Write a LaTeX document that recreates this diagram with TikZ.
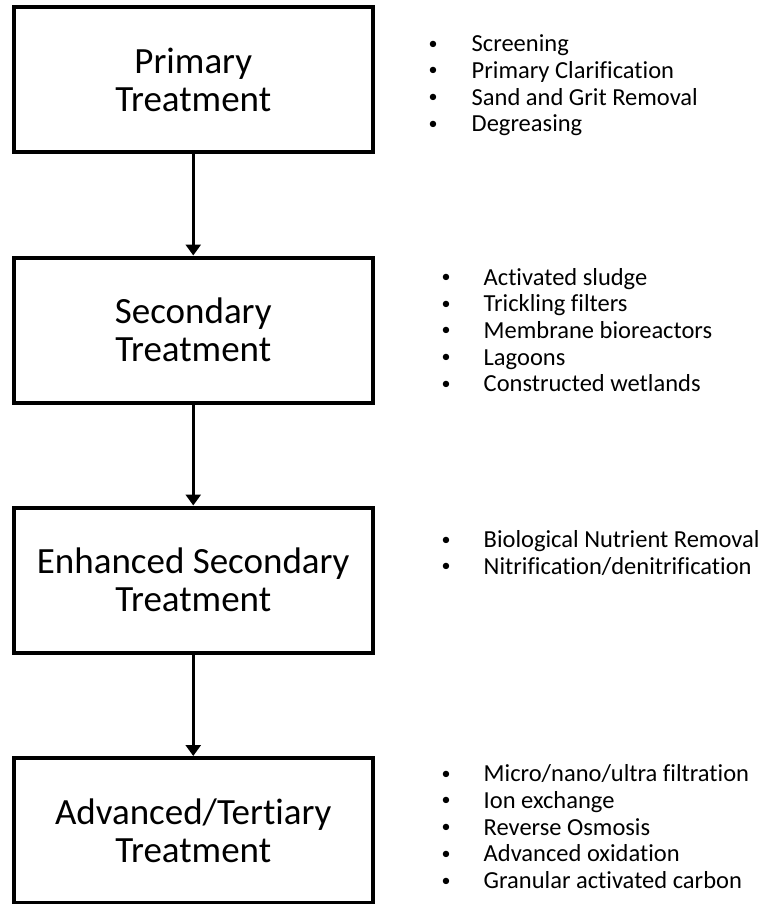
\documentclass[tikz,border=0pt]{standalone}
\usepackage{fontspec}
\setmainfont{Carlito}[Ligatures=NoCommon]
\usepackage{tikz}
\usetikzlibrary{arrows.meta}

\newcommand{\dotitem}{\raisebox{2.5pt}{\fontsize{18}{18}\selectfont\textbullet}}

\begin{document}
\begin{tikzpicture}[x=1pt,y=-1pt,
    stage/.style={draw,line width=4pt,minimum width=359.5pt,minimum height=145pt,
      align=center,inner sep=0pt,font=\fontsize{37}{38}\selectfont},
    items/.style={anchor=base west,inner sep=0pt,font=\fontsize{24.5}{26.7}\selectfont},
    flow/.style={-{Triangle[width=15pt,length=11pt]},line width=3pt}]

        \useasboundingbox (0,0) rectangle (768,904);

        \node[stage]         (prim) at (193.25, 80)       {Primary\\Treatment};
        \node[stage]         (sec)  at (193.25, 330)      {Secondary\\Treatment};
        \node[stage]         (enh)  at (193.25, 580)      {Enhanced Secondary\\Treatment};
        \node[stage]         (adv)  at (193.25, 830.5)    {Advanced/Tertiary\\Treatment};

        \draw[flow] (prim) -- (sec);
        \draw[flow] (sec)  -- (enh);
        \draw[flow] (enh)  -- (adv);

        \node[items] (primlist) at (428.5, 51.7) {\begin{tabular}[t]{@{}p{43pt}@{}l@{}}
            \dotitem & Screening\\
            \dotitem & Primary Clarification\\
            \dotitem & Sand and Grit Removal\\
            \dotitem & Degreasing
          \end{tabular}};
        \node[items] (seclist) at (441.5, 285) {\begin{tabular}[t]{@{}p{42pt}@{}l@{}}
            \dotitem & Activated sludge\\
            \dotitem & Trickling filters\\
            \dotitem & Membrane bioreactors\\
            \dotitem & Lagoons\\
            \dotitem & Constructed wetlands
          \end{tabular}};
        \node[items] (enhlist) at (441.5, 547.7) {\begin{tabular}[t]{@{}p{42pt}@{}l@{}}
            \dotitem & Biological Nutrient Removal\\
            \dotitem & Nitrification/denitrification
          \end{tabular}};
        \node[items] (advlist) at (441.5, 781.7) {\begin{tabular}[t]{@{}p{42pt}@{}l@{}}
            \dotitem & Micro/nano/ultra filtration\\
            \dotitem & Ion exchange\\
            \dotitem & Reverse Osmosis\\
            \dotitem & Advanced oxidation\\
            \dotitem & Granular activated carbon
          \end{tabular}};
      \end{tikzpicture}
\end{document}
